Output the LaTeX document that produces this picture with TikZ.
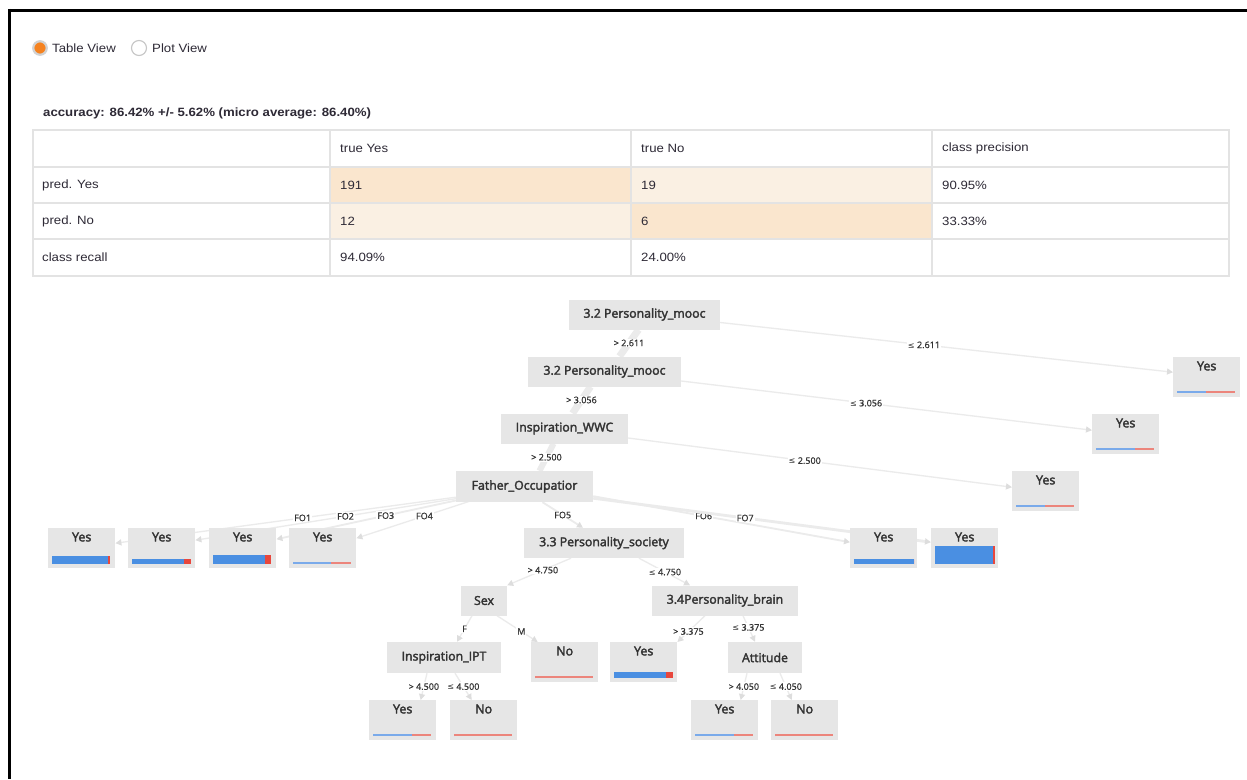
\documentclass[tikz,border=0pt]{standalone}
\usepackage{fontspec}
\setmainfont{Liberation Sans}
\newfontfamily\tabfont{Liberation Sans}[FakeStretch=1.1]
\newfontfamily\treefont{Open Sans}[FakeBold=2.6]
\newfontfamily\lblfont{Open Sans}[FakeBold=0.8]
\newfontfamily\symfont{DejaVu Sans}[Scale=0.9]
\usetikzlibrary{arrows.meta,backgrounds}
\pgfdeclarelayer{bgzero}
\pgfsetlayers{bgzero,background,main}
\definecolor{nodegray}{HTML}{E6E6E6}
\definecolor{edgegray}{HTML}{EBEBEB}
\definecolor{arrowgray}{HTML}{DDDDDD}
\definecolor{txt}{HTML}{333333}
\definecolor{tabtxt}{HTML}{2E2A36}
\definecolor{barblue}{HTML}{4A8FE2}
\definecolor{barred}{HTML}{E8473D}
\definecolor{lblue}{HTML}{7AAAEA}
\definecolor{lred}{HTML}{EC857C}
\definecolor{cellA}{HTML}{FAE6CE}
\definecolor{cellB}{HTML}{FAF0E3}
\definecolor{gridc}{HTML}{E3E3E3}
\definecolor{radioc}{HTML}{F5821F}
\newcommand\lesym{{\symfont ≤}}
\newcommand\leafnode[4]{\node[leafbox,anchor=north west] (#1) at (#2,#3) {};
  \node[leaftext] (#1t) at ([yshift=-9]#1.north) {#4};}
\newcommand\leafbar[6]{\fill[#5] ([xshift=4,yshift=4]#1.south west) rectangle ++(#2,-#4);
  \fill[#6] ([xshift={4+#2},yshift=4]#1.south west) rectangle ++(#3,-#4);}
\begin{document}
\begin{tikzpicture}[x=1pt,y=-1pt,
  inode/.style={fill=nodegray, inner sep=0, minimum height=30, text=txt,
    font=\treefont\fontsize{12.3}{14}\selectfont},
  leafbox/.style={fill=nodegray, inner sep=0, minimum width=67, minimum height=40},
  leaftext/.style={inner sep=0, text=txt, font=\treefont\fontsize{12.5}{14}\selectfont},
  lbl/.style={fill=white, inner sep=1, text=txt, font=\lblfont\fontsize{9}{10}\selectfont},
  thinedge/.style={draw=edgegray, line width=1.3,
    -{Triangle[length=6pt,width=6pt,color=arrowgray]}},
  bigedge/.style={draw=edgegray, line width=7},
  tabtext/.style={anchor=west, inner sep=0, text=tabtxt, font=\tabfont\fontsize{12}{14}\selectfont}]
\useasboundingbox (0,0) rectangle (1247,779);
\begin{pgfonlayer}{bgzero}
\fill[white] (0,0) rectangle (1247,779);
\end{pgfonlayer}
% frame
\draw[line width=3] (8,10.3) -- (1247,10.3);
\draw[line width=3] (9.3,8.8) -- (9.3,779);
% radio buttons
\node[circle, fill=radioc, draw=gray!35, line width=2.2, minimum size=13.5, inner sep=0] (r1) at (40,48) {};
\node[tabtext] (r1t) at (52,48) {Table View};
\node[circle, fill=white, draw=gray!45, line width=1.1, minimum size=15, inner sep=0] (r2) at (139,48) {};
\node[tabtext] (r2t) at (152,48) {Plot View};
% accuracy
\node[anchor=west, inner sep=0, text=tabtxt, font=\tabfont\bfseries\fontsize{12}{14}\selectfont] (acc) at (43,113)
  {accuracy: 86.42\% +/- 5.62\% (micro average: 86.40\%)};
% table
\fill[cellA] (330,167) rectangle (631,203);
\fill[cellB] (631,167) rectangle (932,203);
\fill[cellB] (330,203) rectangle (631,239);
\fill[cellA] (631,203) rectangle (932,239);
\draw[gridc, line width=1.2] (33,130) rectangle (1229,276);
\draw[gridc, line width=1.2] (33,167) -- (1229,167) (33,203) -- (1229,203) (33,239) -- (1229,239)
  (330,130) -- (330,276) (631,130) -- (631,276) (932,130) -- (932,276);
\node[tabtext] (h1) at (340,148.5) {true Yes};
\node[tabtext] (h2) at (641,148.5) {true No};
\node[tabtext] (h3) at (942,148.5) {class precision};
\node[tabtext] (a0) at (42,185) {pred. Yes};
\node[tabtext] (a1) at (340,185) {191};
\node[tabtext] (a2) at (641,185) {19};
\node[tabtext] (a3) at (942,185) {90.95\%};
\node[tabtext] (b0) at (42,221) {pred. No};
\node[tabtext] (b1) at (340,221) {12};
\node[tabtext] (b2) at (641,221) {6};
\node[tabtext] (b3) at (942,221) {33.33\%};
\node[tabtext] (c0) at (42,257.5) {class recall};
\node[tabtext] (c1) at (340,257.5) {94.09\%};
\node[tabtext] (c2) at (641,257.5) {24.00\%};
% tree internal nodes
\node[inode, minimum width=151] (n1) at (644.5,314.5) {3.2 Personality\_mooc};
\node[inode, minimum width=153] (n2) at (604.5,371.5) {3.2 Personality\_mooc};
\node[inode, minimum width=127] (n3) at (564.5,428.5) {Inspiration\_WWC};
\node[inode, minimum width=137, minimum height=31] (fo) at (524.5,486.5) {Father\_Occupatior};
\node[inode, minimum width=160] (s33) at (604,543) {3.3 Personality\_society};
\node[inode, minimum width=46] (sex) at (484,600.5) {Sex};
\node[inode, minimum width=146] (brain) at (725,600.5) {3.4Personality\_brain};
\node[inode, minimum width=114, minimum height=31] (ipt) at (444,657.5) {Inspiration\_IPT};
\node[inode, minimum width=74, minimum height=31] (att) at (765,657.5) {Attitude};
% leaves
\leafnode{y1}{1173}{357}{Yes}
\leafnode{y2}{1092}{414}{Yes}
\leafnode{y3}{1012}{471}{Yes}
\leafnode{l1}{48}{528}{Yes}
\leafnode{l2}{128}{528}{Yes}
\leafnode{l3}{209}{528}{Yes}
\leafnode{l4}{289}{528}{Yes}
\leafnode{l6}{850}{528}{Yes}
\leafnode{l7}{931}{528}{Yes}
\leafnode{nos}{531}{642}{No}
\leafnode{ly}{610}{642}{Yes}
\leafnode{ipy}{369}{700}{Yes}
\leafnode{ipn}{450}{700}{No}
\leafnode{aty}{691}{700}{Yes}
\leafnode{atn}{771}{700}{No}
\leafbar{y1}{29}{29}{2}{lblue}{lred}
\leafbar{y2}{39}{19}{2}{lblue}{lred}
\leafbar{y3}{29}{29}{2}{lblue}{lred}
\leafbar{l1}{56}{2}{8}{barblue}{barred}
\leafbar{l2}{52}{7}{5}{barblue}{barred}
\leafbar{l3}{52}{6}{9}{barblue}{barred}
\leafbar{l4}{38}{20}{2}{lblue}{lred}
\leafbar{l6}{60}{0}{5}{barblue}{barred}
\leafbar{l7}{58}{2}{18}{barblue}{barred}
\leafbar{nos}{0}{58}{2}{lblue}{lred}
\leafbar{ly}{52}{7}{6}{barblue}{barred}
\leafbar{ipy}{39}{19}{2}{lblue}{lred}
\leafbar{ipn}{0}{58}{2}{lblue}{lred}
\leafbar{aty}{39}{19}{2}{lblue}{lred}
\leafbar{atn}{0}{58}{2}{lblue}{lred}
% edges
\begin{pgfonlayer}{background}
\draw[bigedge] ([xshift=-6]n1.south) -- node[lbl]{> 2.611} ([xshift=15]n2.north);
\draw[bigedge] ([xshift=-14]n2.south) -- node[lbl]{> 3.056} ([xshift=8]n3.north);
\draw[bigedge, line width=6] ([xshift=-11]n3.south) -- node[lbl]{> 2.500} ([xshift=15]fo.north);
\draw[thinedge] ([yshift=-8]n1.east) -- node[lbl,pos=0.45]{\lesym{} 2.611} ([yshift=5]y1.west);
\draw[thinedge] ([yshift=-9.5]n2.east) -- node[lbl,pos=0.45]{\lesym{} 3.056} ([yshift=4]y2.west);
\draw[thinedge] ([yshift=-9.5]n3.east) -- node[lbl,pos=0.46]{\lesym{} 2.500} ([yshift=4]y3.west);
\draw[thinedge] ([yshift=5]fo.south west) -- node[lbl,pos=0.45]{FO1} ([yshift=5]l1.east);
\draw[thinedge] ([xshift=3,yshift=4]fo.south west) -- node[lbl,pos=0.43]{FO2} ([yshift=8]l2.east);
\draw[thinedge, line width=1.8] ([xshift=6,yshift=3]fo.south west) -- node[lbl,pos=0.41]{FO3} ([yshift=9]l3.east);
\draw[thinedge] ([xshift=14,yshift=1]fo.south west) -- node[lbl,pos=0.4]{FO4} ([yshift=10]l4.east);
\draw[thinedge, line width=1.8] ([xshift=18]fo.south) -- node[lbl]{FO5} ([xshift=-21]s33.north);
\draw[thinedge, line width=1.8] ([yshift=6]fo.south east) -- node[lbl,pos=0.43]{FO6} ([yshift=6]l6.west);
\draw[thinedge, line width=2.8] ([yshift=4]fo.south east) -- node[lbl,pos=0.45]{FO7} ([yshift=6]l7.west);
\draw[thinedge] ([xshift=-33]s33.south) -- node[lbl,pos=0.44]{> 4.750} (sex.north east);
\draw[thinedge] ([xshift=35]s33.south) -- node[lbl,pos=0.51]{\lesym{} 4.750} ([xshift=-35]brain.north);
\draw[thinedge] ([xshift=-12]sex.south) -- node[lbl]{F} ([xshift=13]ipt.north);
\draw[thinedge] ([xshift=13]sex.south) -- node[lbl,pos=0.6]{M} ([xshift=-27]nos.north);
\draw[thinedge] ([xshift=-20]brain.south) -- node[lbl,pos=0.6]{> 3.375} (ly.north east);
\draw[thinedge] ([xshift=18]brain.south) -- node[lbl,pos=0.45]{\lesym{} 3.375} ([xshift=-10]att.north);
\draw[thinedge] ([xshift=-17]ipt.south) -- node[lbl]{> 4.500} ([xshift=18]ipy.north);
\draw[thinedge] ([xshift=11]ipt.south) -- node[lbl]{\lesym{} 4.500} ([xshift=-12]ipn.north);
\draw[thinedge] ([xshift=-18]att.south) -- node[lbl]{> 4.050} ([xshift=16]aty.north);
\draw[thinedge] ([xshift=15]att.south) -- node[lbl]{\lesym{} 4.050} ([xshift=-13]atn.north);
\end{pgfonlayer}
\end{tikzpicture}
\end{document}
